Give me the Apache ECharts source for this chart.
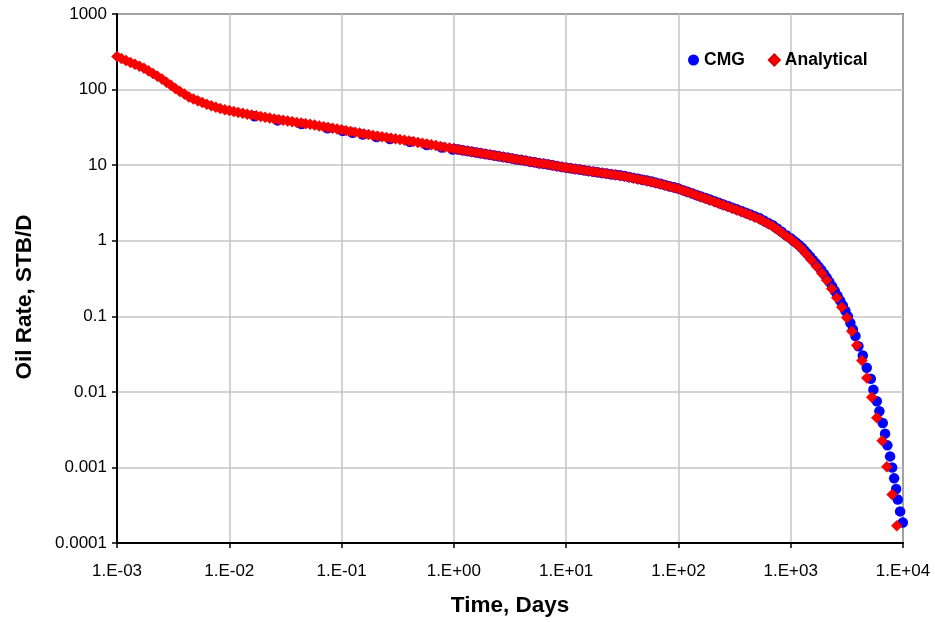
<!DOCTYPE html>
<html>
<head>
<meta charset="utf-8">
<script src="https://cdn.jsdelivr.net/npm/echarts@6/dist/echarts.min.js"></script>
<style>
  html, body { margin: 0; padding: 0; background: #ffffff; }
  #chart { width: 935px; height: 622px; }
</style>
</head>
<body>
<div id="chart"></div>
<script>
// Tick labels for the two log axes (one per decade)
const xTickLabels = ['1.E-03', '1.E-02', '1.E-01', '1.E+00', '1.E+01', '1.E+02', '1.E+03', '1.E+04'];
const yTickLabels = ['0.0001', '0.001', '0.01', '0.1', '1', '10', '100', '1000'];

// Analytical solution: time (days) and oil rate (STB/D)
const anaTime = [
  1.000e-3, 1.096e-3, 1.202e-3, 1.318e-3, 1.445e-3, 1.585e-3, 1.738e-3, 1.905e-3, 2.089e-3, 2.291e-3, 2.512e-3, 2.754e-3, 3.020e-3, 3.311e-3, 3.631e-3, 3.981e-3, 4.365e-3, 4.786e-3, 5.248e-3, 5.754e-3, 6.310e-3, 6.918e-3, 7.586e-3, 8.318e-3, 9.120e-3,
  1.000e-2, 1.096e-2, 1.202e-2, 1.318e-2, 1.445e-2, 1.585e-2, 1.738e-2, 1.905e-2, 2.089e-2, 2.291e-2, 2.512e-2, 2.754e-2, 3.020e-2, 3.311e-2, 3.631e-2, 3.981e-2, 4.365e-2, 4.786e-2, 5.248e-2, 5.754e-2, 6.310e-2, 6.918e-2, 7.586e-2, 8.318e-2, 9.120e-2,
  1.000e-1, 1.096e-1, 1.202e-1, 1.318e-1, 1.445e-1, 1.585e-1, 1.738e-1, 1.905e-1, 2.089e-1, 2.291e-1, 2.512e-1, 2.754e-1, 3.020e-1, 3.311e-1, 3.631e-1, 3.981e-1, 4.365e-1, 4.786e-1, 5.248e-1, 5.754e-1, 6.310e-1, 6.918e-1, 7.586e-1, 8.318e-1, 9.120e-1,
  1.000, 1.096, 1.202, 1.318, 1.445, 1.585, 1.738, 1.905, 2.089, 2.291, 2.512, 2.754, 3.020, 3.311, 3.631, 3.981, 4.365, 4.786, 5.248, 5.754, 6.310, 6.918, 7.586, 8.318, 9.120,
  10.00, 10.96, 12.02, 13.18, 14.45, 15.85, 17.38, 19.05, 20.89, 22.91, 25.12, 27.54, 30.20, 33.11, 36.31, 39.81, 43.65, 47.86, 52.48, 57.54, 63.10, 69.18, 75.86, 83.18, 91.20,
  100.0, 109.6, 120.2, 131.8, 144.5, 158.5, 173.8, 190.5, 208.9, 229.1, 251.2, 275.4, 302.0, 331.1, 363.1, 398.1, 436.5, 478.6, 524.8, 575.4, 631.0, 691.8, 758.6, 831.8, 912.0,
  1000, 1110, 1230, 1370, 1520, 1700, 1890, 2090, 2320, 2570, 2850, 3160, 3500, 3870, 4300, 4760, 5270, 5840, 6530, 7180, 8000, 8810
];
const anaRate = [
  274, 257, 243, 229, 216, 204, 192, 177, 163, 150, 138, 125, 114, 103, 94.6, 87.1, 80.0, 75.2, 71.1, 67.5, 63.8, 61.1, 58.5, 56.0, 54.1,
  52.7, 51.3, 49.9, 48.5, 47.3, 46.2, 45.1, 44.0, 43.0, 41.9, 40.8, 40.0, 39.2, 38.4, 37.6, 36.8, 36.1, 35.4, 34.7, 33.9, 33.0, 32.3, 31.6, 30.8, 30.1,
  29.4, 28.6, 27.9, 27.3, 26.6, 25.9, 25.4, 24.7, 24.2, 23.7, 23.2, 22.7, 22.3, 21.8, 21.4, 20.9, 20.5, 20.0, 19.5, 19.1, 18.6, 18.2, 17.7, 17.3, 16.9,
  16.5, 16.1, 15.7, 15.4, 15.0, 14.7, 14.4, 14.0, 13.7, 13.4, 13.1, 12.8, 12.5, 12.2, 11.9, 11.7, 11.4, 11.1, 10.9, 10.6, 10.4, 10.2, 9.93, 9.70, 9.48,
  9.27, 9.08, 8.89, 8.73, 8.55, 8.38, 8.20, 8.04, 7.89, 7.73, 7.57, 7.41, 7.26, 7.10, 6.90, 6.71, 6.53, 6.35, 6.18, 6.00, 5.79, 5.60, 5.41, 5.21, 5.04,
  4.86, 4.62, 4.41, 4.20, 3.99, 3.80, 3.61, 3.44, 3.27, 3.11, 2.96, 2.82, 2.67, 2.54, 2.41, 2.29, 2.17, 2.05, 1.94, 1.80, 1.67, 1.55, 1.41, 1.27, 1.15,
  1.05, 0.920, 0.803, 0.668, 0.556, 0.457, 0.372, 0.300, 0.232, 0.176, 0.132, 0.0955, 0.0635, 0.0414, 0.0260, 0.0153, 0.0085, 0.00453, 0.00226, 0.00102, 0.000437, 0.000169
];

// CMG simulation: time (days) and oil rate (STB/D)
const cmgTime = [
  0.0168, 0.027, 0.044, 0.075, 0.102, 0.125, 0.155, 0.205, 0.27, 0.405, 0.575, 0.78, 0.98,
  1.000, 1.096, 1.202, 1.318, 1.445, 1.585, 1.738, 1.905, 2.089, 2.291, 2.512, 2.754, 3.020, 3.311, 3.631, 3.981, 4.365, 4.786, 5.248, 5.754, 6.310, 6.918, 7.586, 8.318, 9.120,
  10.00, 10.96, 12.02, 13.18, 14.45, 15.85, 17.38, 19.05, 20.89, 22.91, 25.12, 27.54, 30.20, 33.11, 36.31, 39.81, 43.65, 47.86, 52.48, 57.54, 63.10, 69.18, 75.86, 83.18, 91.20,
  100.0, 109.6, 120.2, 131.8, 144.5, 158.5, 173.8, 190.5, 208.9, 229.1, 251.2, 275.4, 302.0, 331.1, 363.1, 398.1, 436.5, 478.6, 524.8, 575.4, 631.0, 691.8, 758.6, 831.8, 912.0,
  1000,
  1060, 1120, 1190, 1260, 1330, 1410, 1490, 1580, 1670, 1770, 1870, 1980, 2090, 2210, 2340, 2470, 2610, 2760, 2910, 3070, 3230, 3400, 3580, 3770,
  4009, 4385, 4755, 5165, 5450, 5844, 6165, 6600, 6925, 7260, 7675, 8000, 8340, 8690, 8990, 9420, 9950
];
const cmgRate = [
  44.3, 39.1, 35.1, 30.8, 28.4, 26.9, 25.4, 23.6, 22.2, 20.3, 18.5, 17.1, 16.1,
  16.5, 16.1, 15.7, 15.4, 15.0, 14.7, 14.4, 14.0, 13.7, 13.4, 13.1, 12.8, 12.5, 12.2, 11.9, 11.7, 11.4, 11.1, 10.9, 10.6, 10.4, 10.2, 9.93, 9.70, 9.48,
  9.27, 9.08, 8.89, 8.73, 8.55, 8.38, 8.20, 8.04, 7.89, 7.73, 7.57, 7.48, 7.33, 7.17, 6.97, 6.78, 6.60, 6.41, 6.24, 6.06, 5.85, 5.66, 5.46, 5.26, 5.09,
  4.91, 4.67, 4.45, 4.24, 4.03, 3.84, 3.68, 3.51, 3.34, 3.17, 3.02, 2.88, 2.74, 2.60, 2.47, 2.35, 2.22, 2.10, 2.00, 1.85, 1.72, 1.60, 1.45, 1.31, 1.18,
  1.08,
  1.00, 0.942, 0.873, 0.809, 0.740, 0.673, 0.612, 0.553, 0.504, 0.454, 0.409, 0.363, 0.325, 0.285, 0.248, 0.216, 0.187, 0.161, 0.139, 0.118, 0.0998, 0.0817, 0.0670, 0.0547,
  0.0402, 0.0303, 0.0208, 0.0149, 0.0107, 0.0075, 0.00554, 0.00388, 0.00280, 0.00196, 0.0014, 0.001, 0.000717, 0.000519, 0.000375, 0.000262, 0.000187
];

function pairs(t, q) {
  const n = Math.min(t.length, q.length);
  const out = [];
  for (let i = 0; i < n; i++) out.push([t[i], q[i]]);
  return out;
}

const FONT = '"Liberation Sans", Arial, Helvetica, sans-serif';
const decade = v => Math.round(Math.log10(v));

const chart = echarts.init(document.getElementById('chart'), null, { renderer: 'canvas' });
chart.setOption({
  animation: false,
  backgroundColor: '#ffffff',
  grid: {
    left: 117, right: 32, top: 14, bottom: 79,
    show: true, borderColor: '#000000', borderWidth: 1.5, backgroundColor: 'transparent'
  },
  xAxis: {
    type: 'log', logBase: 10, min: 0.001, max: 10000,
    axisLine: { show: true, lineStyle: { color: '#000000', width: 2 } },
    axisTick: { show: true, length: 5, lineStyle: { color: '#000000', width: 1.5 } },
    minorTick: { show: false },
    axisLabel: {
      margin: 20, color: '#000000', fontFamily: FONT, fontSize: 17,
      formatter: v => xTickLabels[decade(v) + 3]
    },
    splitLine: { show: true, lineStyle: { color: '#c4c4c4', width: 1.5 } }
  },
  yAxis: {
    type: 'log', logBase: 10, min: 0.0001, max: 1000,
    axisLine: { show: true, lineStyle: { color: '#000000', width: 2 } },
    axisTick: { show: true, length: 5, lineStyle: { color: '#000000', width: 1.5 } },
    minorTick: { show: false },
    axisLabel: {
      margin: 10, color: '#000000', fontFamily: FONT, fontSize: 17,
      formatter: v => yTickLabels[decade(v) + 4]
    },
    splitLine: { show: true, lineStyle: { color: '#c4c4c4', width: 1.5 } }
  },
  legend: {
    data: ['CMG', 'Analytical'],
    left: 683, top: 46,
    itemWidth: 11, itemHeight: 11, itemGap: 23,
    textStyle: { fontFamily: FONT, fontWeight: 'bold', fontSize: 17.5, color: '#000000' }
  },
  series: [
    {
      name: 'CMG', type: 'scatter', z: 2,
      symbol: 'circle', symbolSize: 10.5,
      itemStyle: { color: '#0000ff', opacity: 1 },
      data: pairs(cmgTime, cmgRate)
    },
    {
      name: 'Analytical', type: 'scatter', z: 3,
      symbol: 'diamond', symbolSize: 11,
      itemStyle: { color: '#ff0000', borderColor: '#d40000', borderWidth: 0.5, opacity: 1 },
      data: pairs(anaTime, anaRate)
    }
  ],
  graphic: [
    {
      type: 'text', x: 510, y: 606,
      style: {
        text: 'Time, Days', fill: '#000000',
        font: 'bold 22.5px ' + FONT, textAlign: 'center', textVerticalAlign: 'middle'
      }
    },
    {
      type: 'text', x: 25, y: 297, rotation: Math.PI / 2,
      style: {
        text: 'Oil Rate, STB/D', fill: '#000000',
        font: 'bold 22.5px ' + FONT, textAlign: 'center', textVerticalAlign: 'middle'
      }
    }
  ]
});
</script>
</body>
</html>
